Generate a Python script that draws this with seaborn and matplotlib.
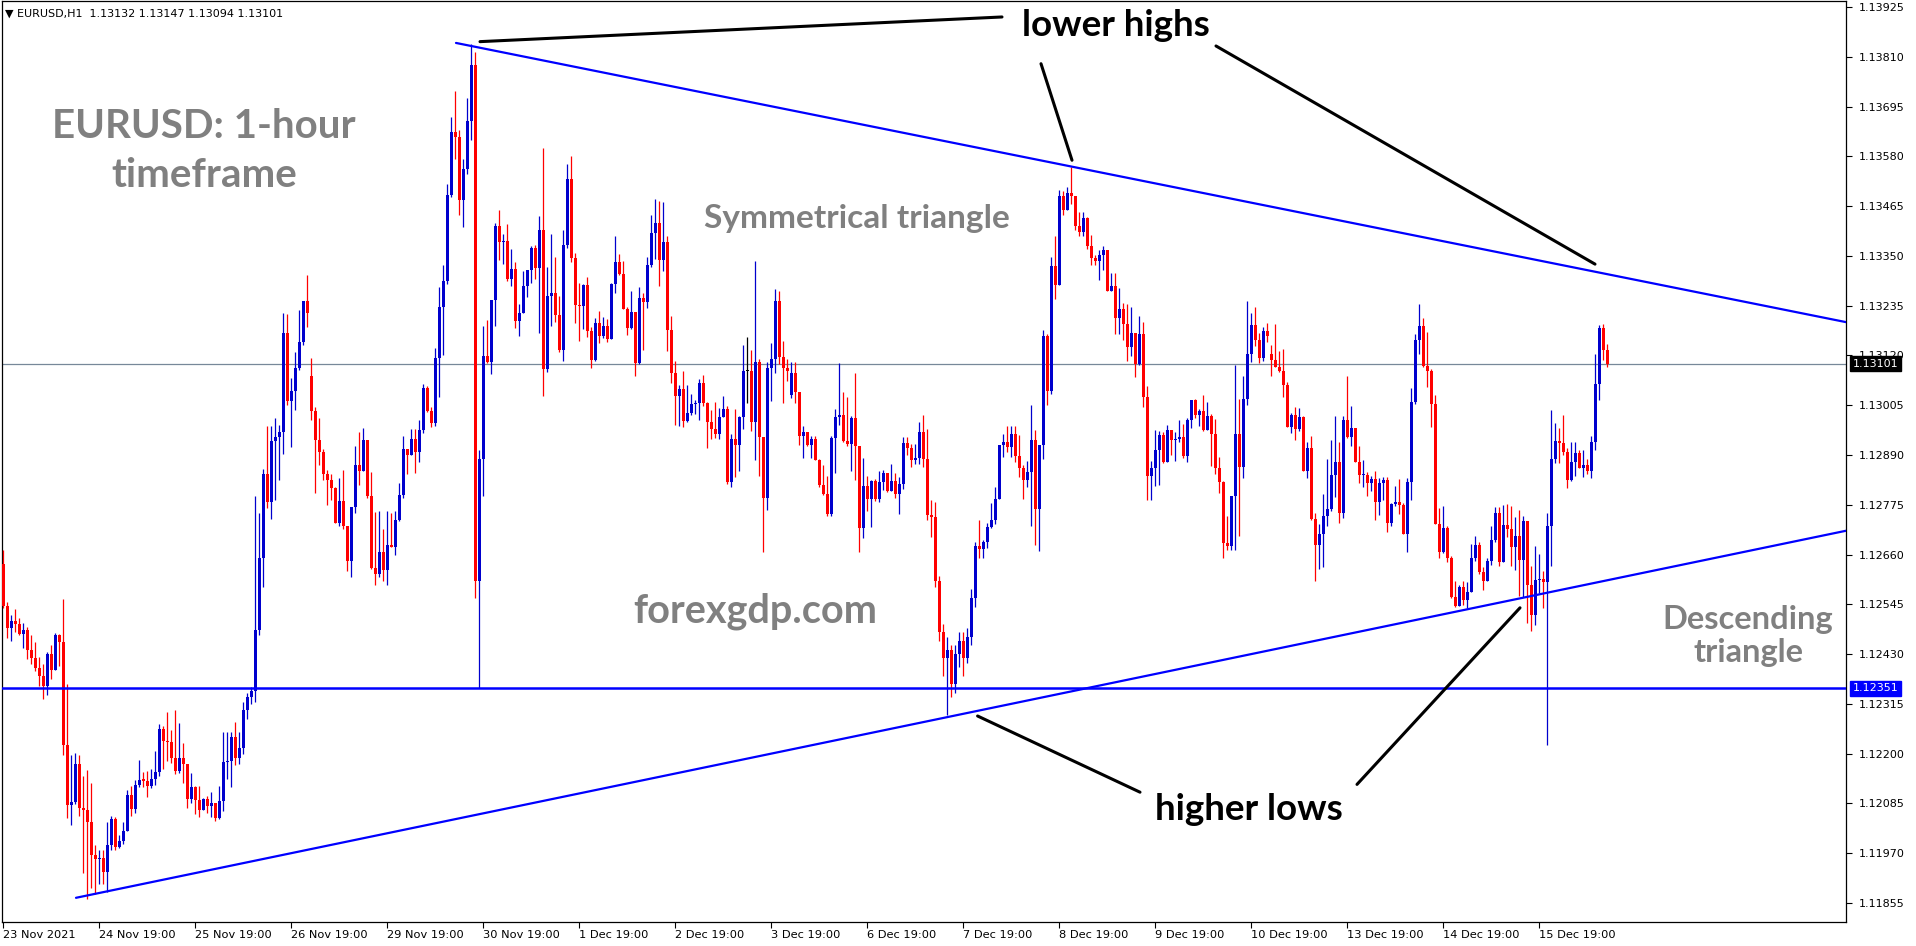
import numpy as np
import pandas as pd
import seaborn as sns
import matplotlib.pyplot as plt
import matplotlib.transforms as mtransforms

# EURUSD H1 candles, prices in points (12542 -> 1.12542)
first_open = 12639
weekend_opens = {77: 13073, 197: 13028, 317: 13124}

closes = [
    12542, 12490, 12507, 12500, 12476, 12485, 12439, 12422, 12397, 12379, 12356, 12430, 12394, 12475, 12459, 12220, 12082, 12088, 12176, 12075,
    12071, 12041, 11966, 11957, 11959, 11926, 11988, 12050, 11984, 11998, 12021, 12104, 12072, 12128, 12140, 12138, 12126, 12141, 12157, 12257,
    12230, 12226, 12191, 12159, 12191, 12175, 12096, 12122, 12092, 12070, 12095, 12080, 12085, 12052, 12090, 12181, 12183, 12238, 12190, 12213,
    12300, 12330, 12345, 12485, 12652, 12847, 12782, 12922, 12932, 12943, 13171, 13014, 13039, 13090, 13150, 13245, 13218, 12992, 12925, 12897,
    12845, 12832, 12814, 12732, 12784, 12727, 12644, 12770, 12867, 12852, 12925, 12795, 12630, 12615, 12667, 12625, 12682, 12678, 12740, 12797,
    12905, 12890, 12927, 12897, 12947, 13044, 12992, 12964, 13115, 13233, 13291, 13490, 13637, 13625, 13480, 13550, 13662, 13790, 12600, 12881,
    13119, 13104, 13248, 13419, 13381, 13384, 13297, 13320, 13200, 13219, 13281, 13317, 13369, 13323, 13410, 13088, 13257, 13264, 13214, 13133,
    13375, 13528, 13346, 13237, 13235, 13283, 13177, 13110, 13195, 13164, 13188, 13159, 13284, 13336, 13308, 13227, 13184, 13221, 13103, 13253,
    13244, 13328, 13404, 13427, 13341, 13383, 13179, 13080, 13026, 13043, 12969, 12988, 13008, 13010, 13056, 13011, 12967, 12951, 12939, 12977,
    12997, 12828, 12926, 12913, 12977, 13085, 13085, 12966, 13104, 12931, 12790, 13091, 13111, 13246, 13116, 13091, 13083, 13080, 13035, 12935,
    12943, 12913, 12926, 12879, 12820, 12801, 12754, 12929, 12977, 12983, 12923, 12915, 12975, 12911, 12722, 12819, 12789, 12831, 12788, 12828,
    12849, 12808, 12831, 12800, 12824, 12918, 12907, 12879, 12882, 12942, 12881, 12752, 12746, 12600, 12480, 12420, 12440, 12360, 12430, 12460,
    12420, 12470, 12560, 12679, 12672, 12688, 12723, 12740, 12789, 12912, 12920, 12908, 12939, 12888, 12860, 12833, 12850, 12925, 12765, 12912,
    13165, 13039, 13327, 13283, 13489, 13456, 13496, 13489, 13418, 13406, 13437, 13372, 13345, 13339, 13352, 13364, 13268, 13281, 13206, 13227,
    13193, 13139, 13171, 13101, 13170, 13024, 12842, 12860, 12902, 12937, 12873, 12948, 12925, 12927, 12931, 12887, 12971, 13018, 12983, 12992,
    12948, 12981, 12939, 12860, 12827, 12686, 12679, 12796, 12939, 12862, 13019, 13124, 13191, 13155, 13115, 13177, 13164, 13110, 13094, 13085,
    13052, 12954, 12983, 12951, 12977, 12853, 12907, 12742, 12683, 12708, 12748, 12766, 12844, 12873, 12756, 12971, 12931, 12952, 12874, 12843,
    12844, 12825, 12834, 12781, 12825, 12833, 12734, 12777, 12781, 12775, 12708, 12827, 13012, 13156, 13189, 13096, 13085, 13008, 12731, 12665,
    12721, 12652, 12562, 12542, 12585, 12556, 12573, 12653, 12683, 12620, 12598, 12646, 12694, 12756, 12642, 12728, 12719, 12677, 12702, 12648,
    12738, 12590, 12521, 12602, 12603, 12596, 12725, 12881, 12923, 12918, 12898, 12833, 12875, 12894, 12860, 12866, 12854, 12919, 13055, 13183,
    13132, 13101,
]

highs = [
    12670, 12551, 12521, 12535, 12513, 12502, 12492, 12474, 12459, 12423, 12407, 12435, 12452, 12478, 12477, 12557, 12361, 12196, 12201, 12196,
    12148, 12162, 12133, 11990, 11977, 11977, 12041, 12055, 12053, 12013, 12043, 12116, 12126, 12140, 12185, 12157, 12161, 12164, 12206, 12268,
    12263, 12296, 12255, 12300, 12270, 12224, 12177, 12155, 12126, 12125, 12097, 12102, 12111, 12083, 12125, 12249, 12249, 12249, 12273, 12250,
    12320, 12340, 12355, 12795, 12755, 12857, 12957, 12958, 12975, 12960, 13217, 13215, 13067, 13127, 13225, 13245, 13307, 13115, 13000, 12975,
    12905, 12855, 12845, 12816, 12837, 12855, 12725, 12770, 12910, 12943, 12953, 12925, 12850, 12758, 12761, 12720, 12760, 12757, 12760, 12825,
    12933, 12905, 12950, 12950, 12970, 13055, 13050, 13002, 13138, 13277, 13330, 13515, 13670, 13732, 13640, 13575, 13715, 13839, 13820, 12902,
    13188, 13202, 13248, 13425, 13455, 13401, 13424, 13366, 13335, 13239, 13315, 13317, 13373, 13375, 13442, 13599, 13325, 13401, 13348, 13257,
    13410, 13562, 13581, 13356, 13287, 13285, 13301, 13185, 13206, 13223, 13208, 13204, 13288, 13396, 13354, 13339, 13233, 13269, 13221, 13279,
    13264, 13348, 13445, 13482, 13477, 13475, 13396, 13210, 13108, 13052, 13085, 13052, 13031, 13016, 13065, 13075, 13013, 12995, 13013, 12999,
    13027, 13003, 12939, 12997, 12980, 13145, 13162, 13133, 13339, 13111, 12919, 13105, 13148, 13274, 13268, 13153, 13111, 13105, 13105, 13036,
    12957, 12939, 12935, 12935, 12881, 12867, 12841, 12935, 12997, 13103, 13036, 13023, 12981, 13080, 12911, 12883, 12841, 12833, 12835, 12852,
    12856, 12849, 12870, 12848, 12840, 12931, 12931, 12915, 12915, 12967, 12983, 12950, 12786, 12782, 12610, 12500, 12470, 12450, 12450, 12480,
    12480, 12490, 12580, 12690, 12739, 12694, 12734, 12779, 12817, 12912, 12939, 12957, 12958, 12956, 12936, 12867, 12877, 13006, 12948, 12912,
    13179, 13170, 13348, 13395, 13503, 13501, 13509, 13555, 13489, 13452, 13452, 13441, 13399, 13352, 13364, 13373, 13360, 13311, 13311, 13275,
    13241, 13239, 13233, 13171, 13211, 13197, 13050, 12877, 12948, 12946, 12944, 12960, 12946, 12942, 12971, 12962, 12975, 13018, 13020, 12996,
    13029, 13012, 12985, 12974, 12885, 12831, 12748, 12796, 13098, 13020, 13073, 13246, 13218, 13233, 13171, 13185, 13195, 13145, 13193, 13131,
    13135, 13059, 12987, 13001, 12999, 12981, 12921, 12933, 12757, 12731, 12800, 12881, 12925, 12979, 12921, 12981, 13073, 13004, 12952, 12911,
    12879, 12850, 12842, 12852, 12837, 12840, 12840, 12780, 12819, 12834, 12779, 12837, 13045, 13170, 13239, 13206, 13175, 13088, 13029, 12767,
    12773, 12725, 12657, 12600, 12590, 12598, 12596, 12685, 12703, 12690, 12631, 12652, 12725, 12771, 12771, 12775, 12777, 12773, 12747, 12762,
    12748, 12738, 12634, 12680, 12662, 12621, 12756, 12995, 12964, 12952, 12983, 12906, 12921, 12921, 12902, 12902, 12881, 12934, 13124, 13191,
    13193, 13147,
]

lows = [
    12537, 12467, 12461, 12482, 12474, 12443, 12418, 12408, 12390, 12357, 12327, 12335, 12372, 12394, 12403, 12198, 12052, 12035, 12083, 12055,
    11924, 11864, 11890, 11875, 11900, 11900, 11880, 11977, 11977, 11982, 11992, 12021, 12057, 12062, 12123, 12123, 12099, 12120, 12128, 12148,
    12165, 12182, 12179, 12153, 12155, 12133, 12075, 12086, 12060, 12054, 12070, 12062, 12054, 12045, 12048, 12067, 12142, 12122, 12174, 12175,
    12200, 12280, 12315, 12320, 12475, 12585, 12768, 12743, 12785, 12832, 12892, 13005, 12909, 12994, 13087, 13143, 13185, 12970, 12803, 12868,
    12833, 12774, 12787, 12732, 12727, 12719, 12622, 12608, 12755, 12820, 12855, 12790, 12627, 12590, 12609, 12600, 12590, 12677, 12658, 12737,
    12790, 12845, 12889, 12849, 12875, 12941, 12989, 12955, 12958, 13023, 13120, 13286, 13485, 13573, 13444, 13417, 13540, 13618, 12560, 12351,
    12796, 13102, 13077, 13187, 13341, 13331, 13292, 13281, 13184, 13164, 13219, 13256, 13288, 13297, 13173, 13027, 13081, 13189, 13198, 13129,
    13108, 13369, 13337, 13196, 13154, 13181, 13163, 13092, 13108, 13148, 13160, 13152, 13160, 13265, 13306, 13227, 13167, 13181, 13073, 13100,
    13133, 13230, 13325, 13343, 13281, 13314, 13131, 13056, 12959, 12957, 12954, 12967, 12982, 12985, 12971, 13003, 12907, 12927, 12929, 12926,
    12977, 12824, 12816, 12840, 12854, 12950, 13011, 12945, 12879, 12842, 12666, 12764, 13015, 13079, 13101, 13011, 13060, 13021, 13009, 12913,
    12883, 12910, 12883, 12878, 12817, 12798, 12748, 12750, 12849, 12959, 12919, 12911, 12852, 12832, 12666, 12698, 12760, 12724, 12784, 12782,
    12809, 12805, 12806, 12790, 12753, 12811, 12891, 12862, 12870, 12870, 12863, 12740, 12700, 12585, 12460, 12380, 12290, 12330, 12340, 12400,
    12380, 12410, 12450, 12540, 12652, 12652, 12675, 12721, 12731, 12789, 12885, 12898, 12886, 12875, 12839, 12788, 12817, 12726, 12682, 12669,
    12880, 13006, 13031, 13250, 13283, 13445, 13455, 13470, 13409, 13395, 13395, 13365, 13329, 13328, 13295, 13318, 13268, 13268, 13170, 13170,
    13155, 13108, 13118, 13071, 13098, 13002, 12786, 12785, 12819, 12820, 12871, 12873, 12890, 12877, 12921, 12883, 12873, 12952, 12975, 12956,
    12946, 12951, 12865, 12847, 12803, 12652, 12671, 12671, 12671, 12703, 12837, 13005, 13106, 13142, 13102, 13108, 13152, 13073, 13093, 13081,
    13025, 12954, 12941, 12925, 12946, 12852, 12838, 12740, 12600, 12627, 12632, 12725, 12760, 12794, 12734, 12744, 12929, 12911, 12874, 12825,
    12816, 12796, 12808, 12739, 12752, 12787, 12713, 12725, 12773, 12754, 12708, 12665, 12787, 13008, 13124, 13093, 13048, 12954, 12731, 12652,
    12663, 12642, 12560, 12539, 12542, 12544, 12536, 12573, 12644, 12616, 12577, 12600, 12636, 12688, 12633, 12642, 12700, 12634, 12625, 12565,
    12563, 12502, 12484, 12498, 12571, 12536, 12221, 12633, 12871, 12871, 12889, 12814, 12831, 12841, 12860, 12839, 12847, 12837, 12902, 13018,
    13110, 13094,
]

date_labels = ['23 Nov 2021', '24 Nov 19:00', '25 Nov 19:00', '26 Nov 19:00', '29 Nov 19:00',
               '30 Nov 19:00', '1 Dec 19:00', '2 Dec 19:00', '3 Dec 19:00', '6 Dec 19:00',
               '7 Dec 19:00', '8 Dec 19:00', '9 Dec 19:00', '10 Dec 19:00', '13 Dec 19:00',
               '14 Dec 19:00', '15 Dec 19:00']
date_bars = [0, 24, 48, 72, 96, 120, 144, 168, 192, 216, 240, 264, 288, 312, 336, 360, 384]
price_labels = ['1.13925', '1.13810', '1.13695', '1.13580', '1.13465', '1.13350', '1.13235',
                '1.13120', '1.13005', '1.12890', '1.12775', '1.12660', '1.12545', '1.12430',
                '1.12315', '1.12200', '1.12085', '1.11970', '1.11855']

current_price = 1.13101
support_level = 1.12351
upper_trend_bars = [113.25, 460.75]
upper_trend_prices = [1.13842, 1.13197]
lower_trend_bars = [18.25, 460.75]
lower_trend_prices = [1.11867, 1.12715]

# pointer lines (bar, price) pairs
pointers = [
    [(119.25, 1.13845), (249.75, 1.13902)],
    [(259.5, 1.13794), (267.25, 1.13571)],
    [(303.25, 1.13835), (398.0, 1.13331)],
    [(243.65, 1.12287), (284.25, 1.12111)],
    [(338.5, 1.12129), (379.25, 1.12537)],
]

BULL = '#0000cd'
BEAR = '#ff0000'
LINE_BLUE = '#0000ff'
GREY_TXT = '#808080'


def to_price(pts):
    return 1.0 + np.asarray(pts, dtype=float) / 100000.0


def build_frame():
    opens = [first_open] + closes[:-1]
    for k, v in weekend_opens.items():
        opens[k] = v
    df = pd.DataFrame({'bar': np.arange(len(closes)),
                       'open': to_price(opens), 'high': to_price(highs),
                       'low': to_price(lows), 'close': to_price(closes)})
    df['color'] = np.where(df.close > df.open, BULL,
                           np.where(df.close < df.open, BEAR, '#000000'))
    return df


sns.set_theme(style='white')
plt.rcParams['font.family'] = ['DejaVu Sans']

df = build_frame()

fig = plt.figure(figsize=(19.16, 9.46), dpi=100)
ax = fig.add_axes([2 / 1916, 24 / 946, 1844 / 1916, 921 / 946])
ax.set_facecolor('white')

# wicks and bodies
lo = np.minimum(df.low, np.minimum(df.open, df.close))
hi = np.maximum(df.high, np.maximum(df.open, df.close))
ax.vlines(df.bar, lo, hi, colors=list(df.color), lw=0.9, zorder=3)
body_h = np.maximum((df.close - df.open).abs(), 0.000024)
ax.bar(df.bar, body_h, bottom=np.minimum(df.open, df.close), width=0.75,
       color=list(df.color), linewidth=0, zorder=4)

# levels and trend lines
ax.axhline(current_price, color='#778899', lw=0.9, zorder=2)
ax.axhline(support_level, color=LINE_BLUE, lw=1.8, zorder=5)
sns.lineplot(x=upper_trend_bars, y=upper_trend_prices, ax=ax, color=LINE_BLUE, lw=1.6, zorder=5)
sns.lineplot(x=lower_trend_bars, y=lower_trend_prices, ax=ax, color=LINE_BLUE, lw=1.6, zorder=5)

for (x0, y0), (x1, y1) in pointers:
    ax.plot([x0, x1], [y0, y1], color='black', lw=2.2, solid_capstyle='round', zorder=6)

# annotations
txt = dict(family=['Lato', 'DejaVu Sans'], fontweight='bold', zorder=7)
ax.text(50.25, 1.13592, 'EURUSD: 1-hour\ntimeframe', ha='center', va='center',
        color=GREY_TXT, fontsize=29, linespacing=1.4, **txt)
ax.text(213.5, 1.13437, 'Symmetrical triangle', ha='center', va='center',
        color=GREY_TXT, fontsize=24, **txt)
ax.text(188, 1.12530, 'forexgdp.com', ha='center', va='center',
        color=GREY_TXT, fontsize=28.5, **txt)
ax.text(436.25, 1.12472, 'Descending\ntriangle', ha='center', va='center',
        color=GREY_TXT, fontsize=23.5, linespacing=1.2, **txt)
ax.text(278.25, 1.13883, 'lower highs', ha='center', va='center',
        color='black', fontsize=26.5, **txt)
ax.text(311.5, 1.12070, 'higher lows', ha='center', va='center',
        color='black', fontsize=26.5, **txt)

# axes limits and ticks
ax.set_xlim(-0.25, 460.75)
ax.set_ylim(1.118111, 1.139389)
ax.yaxis.tick_right()
ax.set_yticks([float(p) for p in price_labels])
ax.set_yticklabels(price_labels)
ax.set_xticks(date_bars)
ax.set_xticklabels(date_labels)
for lab in ax.get_xticklabels():
    lab.set_ha('left')
ax.tick_params(axis='y', right=True, direction='out', length=4, width=0.8,
               pad=5, labelsize=8, colors='black')
ax.tick_params(axis='x', bottom=True, direction='out', length=4, width=0.8,
               pad=1.5, labelsize=8.2, colors='black')
ax.grid(False)
for sp in ax.spines.values():
    sp.set_color('black')
    sp.set_linewidth(0.9)
ax.set_xlabel('')
ax.set_ylabel('')

# price boxes on the right scale
trans = mtransforms.blended_transform_factory(ax.transAxes, ax.transData)
ax.text(1.0035, current_price, f'{current_price:.5f}', transform=trans, ha='left',
        va='center', color='white', fontsize=8, clip_on=False, zorder=10,
        bbox=dict(boxstyle='square,pad=0.25', fc='black', ec='black'))
ax.text(1.0035, support_level, f'{support_level:.5f}', transform=trans, ha='left',
        va='center', color='white', fontsize=8, clip_on=False, zorder=10,
        bbox=dict(boxstyle='square,pad=0.25', fc=LINE_BLUE, ec=LINE_BLUE))

fig.text(5 / 1916, 1 - 14 / 946,
         '\u25bc EURUSD,H1  1.13132 1.13147 1.13094 1.13101',
         fontsize=8, va='center', ha='left', color='black')

fig.savefig('out.png', dpi=100, facecolor='white')
